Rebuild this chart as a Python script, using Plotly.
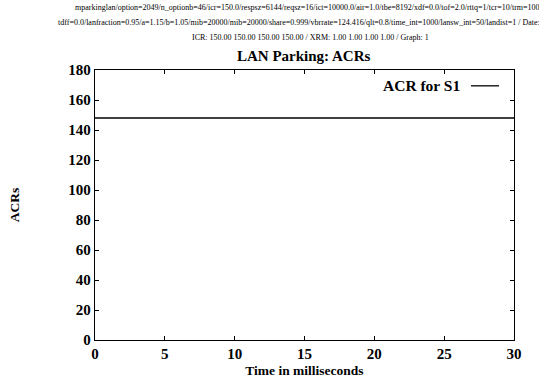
import plotly.graph_objects as go

# Data
time_ms = [0, 30]
acr_s1 = [148, 148]
series_name = "ACR for S1"
x_ticks = [0, 5, 10, 15, 20, 25, 30]
y_ticks = [0, 20, 40, 60, 80, 100, 120, 140, 160, 180]

header_lines = [
    "mparkinglan/option=2049/n_optionb=46/icr=150.0/respsz=6144/reqsz=16/ict=10000.0/air=1.0/tbe=8192/xdf=0.0/tof=2.0/rttq=1/tcr=10/trm=100000",
    "tdff=0.0/lanfraction=0.95/a=1.15/b=1.05/mib=20000/mib=20000/share=0.999/vbrrate=124.416/qlt=0.8/time_int=1000/lansw_int=50/landist=1 / Date:04/",
    "ICR: 150.00 150.00 150.00 150.00 / XRM: 1.00 1.00 1.00 1.00 / Graph: 1",
]

W, H = 539, 388
L, R, T, B = 95, 25, 70, 45
font = "Liberation Serif, Times New Roman, serif"

fig = go.Figure()
fig.add_trace(go.Scatter(x=time_ms, y=acr_s1, mode="lines", name=series_name,
                         line=dict(color="black", width=1.3), showlegend=False))

axis_common = dict(showline=True, linecolor="black", linewidth=1.3, mirror="ticks",
                   ticks="inside", ticklen=4, tickcolor="black", tickwidth=1,
                   showgrid=False, zeroline=False,
                   tickfont=dict(family=font, size=15, color="black"))

fig.update_xaxes(range=[0, 30], tickvals=x_ticks, ticktext=[f"<b>{v}</b>" for v in x_ticks],
                 title=dict(text="<b>Time in milliseconds</b>", font=dict(family=font, size=13.5, color="black"), standoff=4),
                 **axis_common)
fig.update_yaxes(range=[0, 180], tickvals=y_ticks, ticktext=[f"<b>{v}</b>" for v in y_ticks],
                 title=dict(text="<b>ACRs</b>", font=dict(family=font, size=13.5, color="black"), standoff=45),
                 **axis_common)

def px_x(p):
    return (p - L) / (W - L - R)

def px_y(p):
    return (H - B - p) / (H - T - B)

annotations = []
starts = [73, 56, 190]
ys = [7, 22, 37]
for txt, sx, sy in zip(header_lines, starts, ys):
    annotations.append(dict(text=txt, x=px_x(sx), y=px_y(sy), xref="paper", yref="paper",
                            xanchor="left", yanchor="middle", showarrow=False,
                            font=dict(family=font, size=8, color="black")))
annotations.append(dict(text="<b>LAN Parking: ACRs</b>", x=px_x(304), y=px_y(56), xref="paper", yref="paper",
                        xanchor="center", yanchor="middle", showarrow=False,
                        font=dict(family=font, size=15, color="black")))
annotations.append(dict(text=f"<b>{series_name}</b>", x=px_x(462), y=px_y(86), xref="paper", yref="paper",
                        xanchor="right", yanchor="middle", showarrow=False,
                        font=dict(family=font, size=15.5, color="black")))

fig.add_shape(type="line", xref="paper", yref="paper", x0=px_x(471), x1=px_x(499),
              y0=px_y(86), y1=px_y(86), line=dict(color="black", width=1.3))

fig.update_layout(width=W, height=H, margin=dict(l=L, r=R, t=T, b=B),
                  paper_bgcolor="white", plot_bgcolor="white",
                  annotations=annotations, showlegend=False)

fig.write_html("out.html")
